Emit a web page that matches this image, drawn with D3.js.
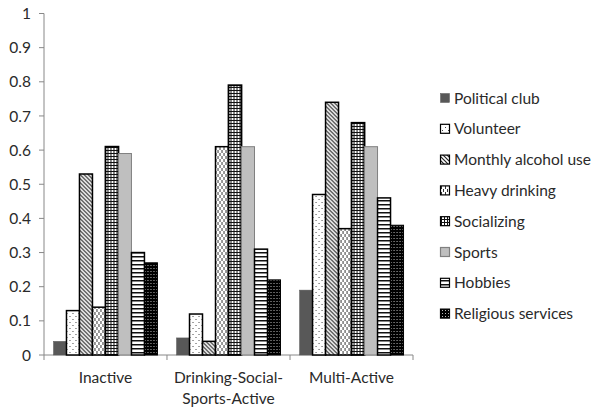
<!DOCTYPE html>
<html><head><meta charset="utf-8">
<script src="https://cdn.jsdelivr.net/npm/d3@7"></script>
<style>body{margin:0;background:#fff}text{font-family:Lato,"Open Sans",sans-serif;fill:#2a2a2a}</style>
</head><body><svg id="c" width="601" height="413"></svg>
<script>
const categories = ["Inactive", "Drinking-Social-Sports-Active", "Multi-Active"];
const categoryLines = [["Inactive"], ["Drinking-Social-", "Sports-Active"], ["Multi-Active"]];
const seriesNames = ["Political club","Volunteer","Monthly alcohol use","Heavy drinking","Socializing","Sports","Hobbies","Religious services"];
const politicalClub = [0.04, 0.05, 0.19];
const volunteer = [0.13, 0.12, 0.47];
const monthlyAlcohol = [0.53, 0.04, 0.74];
const heavyDrinking = [0.14, 0.61, 0.37];
const socializing = [0.61, 0.79, 0.68];
const sports = [0.59, 0.61, 0.61];
const hobbies = [0.30, 0.31, 0.46];
const religious = [0.27, 0.22, 0.38];
const yTicks = [0,0.1,0.2,0.3,0.4,0.5,0.6,0.7,0.8,0.9,1];
const yTickLabels = ["0","0.1","0.2","0.3","0.4","0.5","0.6","0.7","0.8","0.9","1"];

const seriesValues = [politicalClub, volunteer, monthlyAlcohol, heavyDrinking, socializing, sports, hobbies, religious];

const svg = d3.select("#c");
const defs = svg.append("defs");
function pat(id, w, h, bg, draw){
  const p = defs.append("pattern").attr("id", id).attr("patternUnits","userSpaceOnUse").attr("width", w).attr("height", h);
  p.append("rect").attr("width", w).attr("height", h).attr("fill", bg);
  draw(p);
}
pat("pVol", 6, 6, "#fff", p => {
  p.append("rect").attr("x",1).attr("y",1).attr("width",1).attr("height",1).attr("fill","#444");
  p.append("rect").attr("x",4).attr("y",4).attr("width",1).attr("height",1).attr("fill","#444");
});
pat("pMon", 4, 4, "#fff", p => {
  p.append("path").attr("d","M-1,-1 L5,5 M-1,3 L1,5 M3,-1 L5,1").attr("stroke","#222").attr("stroke-width",1.2);
});
pat("pHeavy", 4, 6, "#fff", p => {
  p.append("rect").attr("x",1).attr("y",0).attr("width",1).attr("height",3).attr("fill","#333");
  p.append("rect").attr("x",3).attr("y",3).attr("width",1).attr("height",3).attr("fill","#333");
});
pat("pSoc", 3, 3, "#fff", p => {
  p.append("rect").attr("x",0).attr("y",0).attr("width",3).attr("height",1).attr("fill","#111");
  p.append("rect").attr("x",0).attr("y",0).attr("width",1).attr("height",3).attr("fill","#111");
});
pat("pHob", 4, 4, "#fff", p => {
  p.append("rect").attr("x",0).attr("y",0).attr("width",4).attr("height",1.5).attr("fill","#111");
});
pat("pRel", 3, 3, "#000", p => {
  p.append("rect").attr("x",1).attr("y",1).attr("width",1).attr("height",1).attr("fill","#bbb");
});
const fills = ["#585858","url(#pVol)","url(#pMon)","url(#pHeavy)","url(#pSoc)","#bfbfbf","url(#pHob)","url(#pRel)"];
const strokes = ["#585858","#000","#000","#000","#000","#808080","#000","#000"];
const strokeW = [0.5,1.5,1.5,1.5,1.8,1,1.5,1];

const x0 = d3.scaleBand().domain(categories).range([44, 413]).paddingInner(0.155).paddingOuter(0.077);
const x1 = d3.scaleBand().domain(seriesNames).range([0, x0.bandwidth()]);
const y = d3.scaleLinear().domain([0,1]).range([355, 13.5]);

// y axis
svg.append("line").attr("x1",44).attr("x2",44).attr("y1",y(1)).attr("y2",y(0)).attr("stroke","#888");
yTicks.forEach((t,i) => {
  svg.append("line").attr("x1",39).attr("x2",44).attr("y1",y(t)).attr("y2",y(t)).attr("stroke","#888");
  svg.append("text").attr("x",31).attr("y",y(t)).attr("dy","0.36em").attr("text-anchor","end").attr("font-size",15.5).text(yTickLabels[i]);
});
// x axis
svg.append("line").attr("x1",44).attr("x2",413).attr("y1",y(0)).attr("y2",y(0)).attr("stroke","#888");
const bounds = [44].concat(categories.map(c => x0(c) + x0.bandwidth() + x0.step()*x0.paddingInner()/2));
bounds[bounds.length-1] = 413;
bounds.forEach(b => svg.append("line").attr("x1",b).attr("x2",b).attr("y1",y(0)).attr("y2",y(0)+5).attr("stroke","#888"));

// bars
categories.forEach((c, ci) => {
  const g = svg.append("g").attr("transform", `translate(${x0(c)},0)`);
  seriesNames.forEach((s, si) => {
    const v = seriesValues[si][ci];
    g.append("rect").attr("x", x1(s)).attr("y", y(v)).attr("width", x1.bandwidth()).attr("height", y(0)-y(v))
      .attr("fill", fills[si]).attr("stroke", strokes[si]).attr("stroke-width", strokeW[si]);
  });
  categoryLines[ci].forEach((ln, li) => {
    svg.append("text").attr("x", x0(c)+x0.bandwidth()/2).attr("y", 383 + li*21).attr("text-anchor","middle").attr("font-size",15.5).text(ln);
  });
});

// legend
seriesNames.forEach((s, si) => {
  const ly = 98 + si*30.8;
  svg.append("rect").attr("x",440.5).attr("y",ly-4.5).attr("width",9).attr("height",9)
    .attr("fill", fills[si]).attr("stroke", strokes[si]).attr("stroke-width", si===0?0.5:1.2);
  svg.append("text").attr("x",454).attr("y",ly).attr("dy","0.36em").attr("font-size",15.5).text(s);
});
</script></body></html>
